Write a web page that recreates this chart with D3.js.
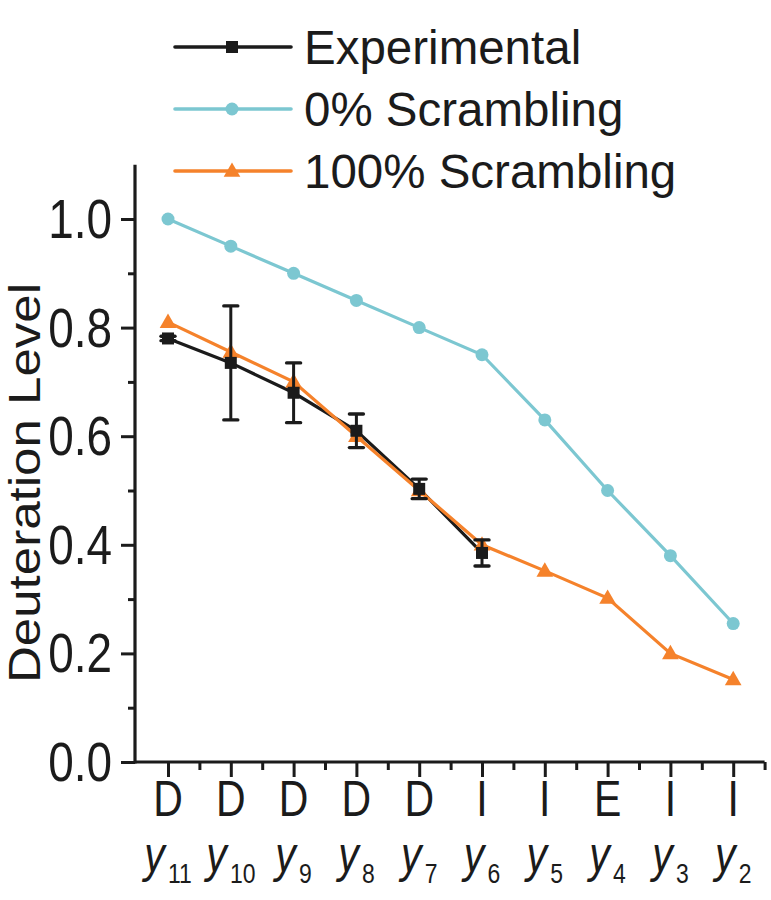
<!DOCTYPE html>
<html>
<head>
<meta charset="utf-8">
<script src="https://cdn.jsdelivr.net/npm/d3@7"></script>
<style>
  html, body { margin: 0; padding: 0; background: #fff; }
  svg { display: block; font-family: "Liberation Sans", Arial, sans-serif; }
</style>
</head>
<body>
<svg id="chart" width="771" height="900"></svg>
<script>
// ---- Data ----
const residues = ["D", "D", "D", "D", "D", "I", "I", "E", "I", "I"];
const ionNumbers = ["11", "10", "9", "8", "7", "6", "5", "4", "3", "2"];
const zeroScrambling = [1.00, 0.95, 0.90, 0.85, 0.80, 0.75, 0.63, 0.50, 0.38, 0.255];
const fullScrambling = [0.81, 0.755, 0.70, 0.60, 0.50, 0.40, 0.352, 0.302, 0.20, 0.152];
const experimental = [0.78, 0.735, 0.68, 0.61, 0.503, 0.385];
const experimentalErr = [0.004, 0.105, 0.055, 0.031, 0.018, 0.024];
const yTicks = [0.0, 0.2, 0.4, 0.6, 0.8, 1.0];
const yMinorTicks = [0.1, 0.3, 0.5, 0.7, 0.9];
const legendLabels = ["Experimental", "0% Scrambling", "100% Scrambling"];

const colBlack = "#1b1b1b", colCyan = "#7cc7d1", colOrange = "#f5822b";
const narrow = 0.82;

const svg = d3.select("#chart");
const x = d3.scaleLinear().domain([-0.5, 9.5]).range([136.6, 764.6]);
const y = d3.scaleLinear().domain([0, 1]).range([762, 219]);
const axisX0 = 135;

// ---- Axes ----
const idx = d3.range(residues.length);
const gx = svg.append("g").attr("transform", `translate(0,${y(0)})`);
gx.call(d3.axisBottom(x).tickValues(idx).tickSize(15).tickFormat("").tickSizeOuter(0));
gx.append("g").call(d3.axisBottom(x).tickValues(idx.map(i => i + 0.5)).tickSize(8).tickFormat("").tickSizeOuter(0));
gx.select("path.domain").attr("d", `M${axisX0 - 1},0H${x(9.5)}`);
gx.selectAll("g g path.domain").remove();
gx.selectAll("path.domain").attr("stroke", colBlack).attr("stroke-width", 3.2);
gx.selectAll("line").attr("stroke", colBlack).attr("stroke-width", 3);

const gy = svg.append("g").attr("transform", `translate(${axisX0},0)`);
gy.call(d3.axisLeft(y).tickValues(yTicks).tickSize(14).tickSizeOuter(0).tickFormat(""));
gy.append("g").call(d3.axisLeft(y).tickValues(yMinorTicks).tickSize(7).tickFormat("").tickSizeOuter(0));
gy.select("path.domain").attr("d", `M0,${y(1.1)}V${y(0) + 1.5}`);
gy.selectAll("g g path.domain").remove();
gy.selectAll("path.domain").attr("stroke", colBlack).attr("stroke-width", 3.2);
gy.selectAll("line").attr("stroke", colBlack).attr("stroke-width", 3);

// y tick labels (condensed)
const fmt = d3.format(".1f");
svg.append("g").selectAll("text").data(yTicks).join("text")
  .attr("transform", d => `translate(112,${y(d)}) scale(${narrow},1)`)
  .attr("dy", "0.34em").attr("text-anchor", "end")
  .attr("font-size", 56).attr("fill", colBlack).text(d => fmt(d));

// x category labels (condensed)
const lab = svg.append("g");
lab.selectAll("text.res").data(idx).join("text")
  .attr("class", "res")
  .attr("transform", i => `translate(${x(i)},816) scale(${narrow},1)`)
  .attr("text-anchor", "middle").attr("font-size", 50).attr("fill", colBlack)
  .text(i => residues[i]);
const ionT = lab.selectAll("text.ion").data(idx).join("text")
  .attr("class", "ion")
  .attr("transform", i => `translate(${x(i)},872) scale(${narrow},1)`)
  .attr("text-anchor", "middle").attr("fill", colBlack);
ionT.append("tspan").attr("font-size", 50).attr("font-style", "italic").text("y");
ionT.append("tspan").attr("font-size", 28).attr("dy", 11).attr("dx", 4).text(i => ionNumbers[i]);

// y axis title
svg.append("text")
  .attr("transform", `translate(40,483) rotate(-90)`)
  .attr("text-anchor", "middle").attr("font-size", 45).attr("fill", colBlack)
  .attr("textLength", 400).attr("lengthAdjust", "spacingAndGlyphs")
  .text("Deuteration Level");

// ---- Series ----
const line = d3.line().x((d, i) => x(i)).y(d => y(d));
const plot = svg.append("g");

plot.append("path").datum(zeroScrambling).attr("d", line)
  .attr("fill", "none").attr("stroke", colCyan).attr("stroke-width", 3.2);
plot.selectAll("circle.c0").data(zeroScrambling).join("circle")
  .attr("cx", (d, i) => x(i)).attr("cy", d => y(d)).attr("r", 6.5).attr("fill", colCyan);

plot.append("path").datum(experimental).attr("d", line)
  .attr("fill", "none").attr("stroke", colBlack).attr("stroke-width", 3.2);

plot.append("path").datum(fullScrambling).attr("d", line)
  .attr("fill", "none").attr("stroke", colOrange).attr("stroke-width", 3.2);

const tri = d3.symbol().type(d3.symbolTriangle).size(120);
plot.selectAll("path.tri").data(fullScrambling).join("path")
  .attr("class", "tri")
  .attr("transform", (d, i) => `translate(${x(i)},${y(d) + 1})`)
  .attr("d", tri).attr("fill", colOrange);

// error bars
const eb = plot.selectAll("g.eb").data(experimental).join("g").attr("class", "eb");
eb.append("line")
  .attr("x1", (d, i) => x(i)).attr("x2", (d, i) => x(i))
  .attr("y1", (d, i) => y(d + experimentalErr[i])).attr("y2", (d, i) => y(d - experimentalErr[i]))
  .attr("stroke", colBlack).attr("stroke-width", 3);
[1, -1].forEach(s => {
  eb.append("line")
    .attr("x1", (d, i) => x(i) - 7).attr("x2", (d, i) => x(i) + 7)
    .attr("y1", (d, i) => y(d + s * experimentalErr[i])).attr("y2", (d, i) => y(d + s * experimentalErr[i]))
    .attr("stroke", colBlack).attr("stroke-width", 3.4).attr("stroke-linecap", "round");
});
plot.selectAll("rect.sq").data(experimental).join("rect")
  .attr("x", (d, i) => x(i) - 6).attr("y", d => y(d) - 6)
  .attr("width", 12).attr("height", 12).attr("fill", colBlack);

// ---- Legend ----
const leg = svg.append("g");
const legY = [47, 109, 171];
const legCol = [colBlack, colCyan, colOrange];
legendLabels.forEach((t, k) => {
  const g = leg.append("g").attr("transform", `translate(0,${legY[k]})`);
  g.append("line").attr("x1", 175).attr("x2", 291).attr("y1", 0).attr("y2", 0)
    .attr("stroke", legCol[k]).attr("stroke-width", 3.6).attr("stroke-linecap", "round");
  if (k === 0) g.append("rect").attr("x", 226).attr("y", -6).attr("width", 12).attr("height", 12).attr("fill", colBlack);
  if (k === 1) g.append("circle").attr("cx", 232).attr("cy", 0).attr("r", 6.5).attr("fill", colCyan);
  if (k === 2) g.append("path").attr("transform", "translate(232,1)").attr("d", tri).attr("fill", colOrange);
  g.append("text").attr("x", 304).attr("y", 17).attr("font-size", 47.5).attr("fill", colBlack).text(t);
});
</script>
</body>
</html>
